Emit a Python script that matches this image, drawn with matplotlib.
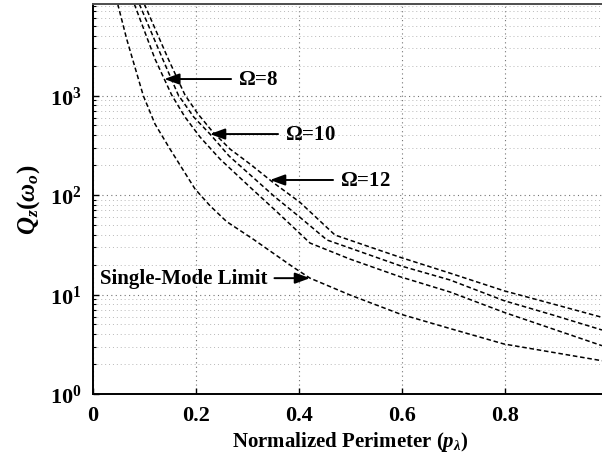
import numpy as np
import matplotlib
matplotlib.use("Agg")
import matplotlib.pyplot as plt
from matplotlib.ticker import FuncFormatter, LogLocator, NullFormatter

plt.rcParams['font.family'] = ['Liberation Serif', 'DejaVu Serif']
plt.rcParams['mathtext.fontset'] = 'custom'
plt.rcParams['mathtext.rm'] = 'Liberation Serif:bold'
plt.rcParams['mathtext.bf'] = 'Liberation Serif:bold'
plt.rcParams['mathtext.it'] = 'Liberation Serif:italic:bold'

# Single-mode limit
x_single = [0.048, 0.0654, 0.0977, 0.1204, 0.1495, 0.1981, 0.2272, 0.2596, 0.3107, 0.3889,
            0.4214, 0.499, 0.5961, 0.6932, 0.7981, 0.8932, 0.9883]
q_single = [8318, 3698, 995, 517, 290, 115, 78, 54, 36.1, 18.8,
            14.6, 9.89, 6.37, 4.55, 3.18, 2.62, 2.16]

# Omega = 8
x_om8 = [0.0802, 0.1204, 0.1528, 0.1786, 0.2078, 0.2466, 0.3049, 0.3534, 0.4019, 0.4214,
         0.499, 0.5961, 0.6932, 0.7981, 0.8932, 0.9883]
q_om8 = [8318, 2328, 1012, 608, 383, 230, 120, 70.6, 41.0, 32.9,
         22.7, 15.1, 10.6, 6.62, 4.50, 3.06]

# Omega = 10
x_om10 = [0.0899, 0.1353, 0.1656, 0.1956, 0.2272, 0.2641, 0.3049, 0.3534, 0.4019, 0.4544,
          0.5184, 0.5961, 0.6932, 0.7981, 0.8932, 0.9883]
q_om10 = [8318, 2328, 1012, 608, 410, 247, 160, 95.5, 59.7, 35.3,
          27.0, 19.5, 14.0, 8.67, 6.22, 4.40]

# Omega = 12
x_om12 = [0.0996, 0.1462, 0.1786, 0.2039, 0.2311, 0.266, 0.3049, 0.3495, 0.4019, 0.4699,
          0.5379, 0.5961, 0.6932, 0.7981, 0.8932, 0.9883]
q_om12 = [8318, 2328, 1012, 652, 440, 290, 205, 134, 84.5, 39.6,
          30.0, 23.7, 16.4, 10.9, 8.03, 5.90]

labels = ['Single-Mode Limit', r'$\Omega$=8', r'$\Omega$=10', r'$\Omega$=12']
label_pos = [(0.0136, 14.6), (0.2816, 1465), (0.3728, 410), (0.4796, 141.6)]

fig = plt.figure(figsize=(6.02, 4.64), dpi=100)
ax = fig.add_axes([93 / 602, 69 / 464, 515 / 602, 390 / 464])

curves = [(x_single, q_single), (x_om8, q_om8), (x_om10, q_om10), (x_om12, q_om12)]
for xs, qs in curves:
    ax.plot(xs, qs, color='black', lw=1.1, linestyle=(0, (3, 1.8)))

ax.set_yscale('log')
ax.set_xlim(0, 1)
ax.set_ylim(1, 8318)
ax.set_xticks([0, 0.2, 0.4, 0.6, 0.8])
ax.set_xticklabels(['0', '0.2', '0.4', '0.6', '0.8'])
ax.yaxis.set_major_locator(LogLocator(base=10, numticks=10))
ax.yaxis.set_minor_locator(LogLocator(base=10, subs=np.arange(2, 10), numticks=20))
ax.yaxis.set_major_formatter(FuncFormatter(lambda v, p: r'$\mathbf{10^{%d}}$' % round(np.log10(v))))
ax.yaxis.set_minor_formatter(NullFormatter())

for lab in ax.get_xticklabels():
    lab.set_fontweight('bold')
ax.tick_params(axis='both', which='major', direction='in', length=4, width=1,
               labelsize=16, pad=8)
ax.tick_params(axis='y', which='minor', direction='in', length=2.5, width=0.8)

ax.grid(True, which='major', axis='both', linestyle=(0, (1, 3)), color='0.45', lw=0.8)
ax.grid(True, which='minor', axis='y', linestyle=(0, (1, 3)), color='0.72', lw=0.7)

for side in ['left', 'bottom', 'top']:
    ax.spines[side].set_linewidth(1.4)
ax.spines['top'].set_color('0.3')
ax.spines['right'].set_visible(False)

ax.set_xlabel(r'Normalized Perimeter ($\mathit{p}_{\lambda}$)', fontsize=15,
              fontweight='bold', labelpad=3)
ax.set_ylabel(r'$\mathit{Q}_{\mathit{z}}(\mathit{\omega}_{\mathit{o}})$', fontsize=18, labelpad=6)

# arrows: tip lands on the curve at the label height
for (xs, qs), text, (tx, ty) in zip(curves, labels, label_pos):
    logq = np.log10(qs)
    tip_x = np.interp(np.log10(ty), logq[::-1], np.array(xs)[::-1])
    ax.annotate(text, xy=(tip_x, ty), xytext=(tx, ty), fontsize=15, fontweight='bold',
                ha='left', va='center',
                arrowprops=dict(arrowstyle='-|>,head_length=0.6,head_width=0.22',
                                color='black', lw=1.4, shrinkA=3, shrinkB=0))

fig.savefig('out.png', dpi=100)
